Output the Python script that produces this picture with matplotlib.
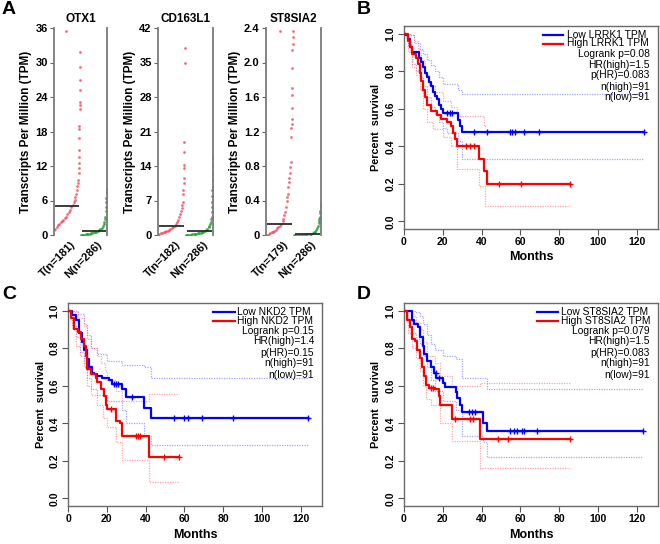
import numpy as np
import matplotlib
matplotlib.use("Agg")
import matplotlib.pyplot as plt

plt.rcParams["font.family"] = ["Liberation Sans", "DejaVu Sans"]

W, H = 660, 544

# ---------- Panel A: expression dot plots (rank fraction, TPM) ----------
otx1_t_rank = [0.00, 0.05, 0.10, 0.15, 0.20, 0.25, 0.30, 0.35, 0.40, 0.45, 0.50, 0.55, 0.60, 0.65, 0.70,
               0.74, 0.78, 0.81, 0.84, 0.86, 0.88, 0.90, 0.92,
               0.93, 0.935, 0.94, 0.945, 0.95, 0.955, 0.96, 0.96, 0.965, 0.965, 0.97, 0.97, 0.975, 0.98, 0.985,
               0.47, 0.86]
otx1_t_vals = [0.9, 1.1, 1.4, 1.7, 2.0, 2.2, 2.4, 2.6, 2.9, 3.2, 3.6, 4.0, 4.3, 4.8, 5.2,
               5.7, 6.1, 6.6, 7.2, 7.8, 8.5, 9.0, 9.6,
               10.7, 11.6, 12.5, 13.6, 14.8, 16.8, 18.4, 18.9, 22.0, 22.6, 23.2, 25.3, 26.9, 29.3, 31.9,
               35.5, 36.3]
otx1_n_rank = [0.00, 0.05, 0.10, 0.15, 0.20, 0.25, 0.30, 0.35, 0.40, 0.45, 0.50, 0.55, 0.60, 0.65, 0.70,
               0.75, 0.80, 0.85, 0.88, 0.90, 0.92, 0.94, 0.96, 0.97, 0.975, 0.98, 0.985, 0.99]
otx1_n_vals = [0.0, 0.02, 0.05, 0.08, 0.1, 0.15, 0.2, 0.25, 0.3, 0.38, 0.45, 0.5, 0.6, 0.7, 0.85,
               1.0, 1.2, 1.5, 2.0, 2.3, 2.7, 3.2, 4.1, 4.9, 5.8, 6.5, 7.3, 8.0]

cd_t_rank = [0.00, 0.05, 0.10, 0.15, 0.20, 0.25, 0.30, 0.35, 0.40, 0.45, 0.50, 0.55, 0.60, 0.65, 0.70,
             0.74, 0.78, 0.81, 0.84, 0.86, 0.88, 0.90,
             0.91, 0.92, 0.93, 0.935, 0.94, 0.945, 0.95, 0.955, 0.965, 0.97]
cd_t_vals = [0.1, 0.3, 0.4, 0.5, 0.6, 0.7, 0.8, 0.9, 1.1, 1.3, 1.5, 1.7, 1.9, 2.2, 2.6,
             3.0, 3.6, 4.2, 4.8, 5.4, 6.0, 6.7,
             8.4, 9.2, 10.5, 11.6, 13.5, 14.2, 16.9, 18.9, 34.8, 37.9]
cd_n_rank = [0.00, 0.05, 0.10, 0.15, 0.20, 0.25, 0.30, 0.35, 0.40, 0.45, 0.50, 0.55, 0.60, 0.65, 0.70,
             0.75, 0.80, 0.84, 0.87, 0.90, 0.92, 0.94, 0.95,
             0.96, 0.965, 0.97, 0.975, 0.98, 0.985, 0.99, 0.993, 0.996, 1.0]
cd_n_vals = [0.0, 0.02, 0.05, 0.08, 0.1, 0.15, 0.2, 0.25, 0.3, 0.35, 0.4, 0.45, 0.55, 0.7, 0.85,
             1.0, 1.3, 1.6, 1.9, 2.3, 2.7, 3.2, 3.7,
             4.6, 5.6, 6.6, 8.0, 9.1, 10.0, 11.1, 12.4, 14.0, 15.6]

st_t_rank = [0.00, 0.05, 0.10, 0.15, 0.20, 0.25, 0.30, 0.35, 0.40, 0.45, 0.50, 0.55, 0.60,
             0.63, 0.66, 0.69, 0.72, 0.75, 0.77, 0.79, 0.81, 0.83, 0.85, 0.87,
             0.89, 0.90, 0.91, 0.92, 0.93, 0.935, 0.94, 0.945, 0.95, 0.955, 0.96, 0.965, 0.97, 0.975,
             0.51]
st_t_vals = [0.0, 0.005, 0.01, 0.02, 0.03, 0.04, 0.05, 0.06, 0.08, 0.09, 0.11, 0.13, 0.16,
             0.19, 0.23, 0.27, 0.33, 0.39, 0.44, 0.48, 0.56, 0.61, 0.66, 0.72,
             0.79, 0.85, 1.14, 1.24, 1.29, 1.35, 1.47, 1.62, 1.71, 1.94, 2.14, 2.22, 2.30, 2.36,
             2.36]
st_n_rank = [0.00, 0.10, 0.20, 0.30, 0.40, 0.50, 0.60, 0.65, 0.70, 0.75, 0.79, 0.83, 0.87, 0.89,
             0.91, 0.93, 0.94, 0.95, 0.96, 0.97, 0.98, 0.99, 1.0]
st_n_vals = [0.0, 0.0, 0.0, 0.002, 0.004, 0.006, 0.01, 0.015, 0.02, 0.03, 0.04, 0.06, 0.08, 0.11,
             0.14, 0.16, 0.18, 0.2, 0.21, 0.25, 0.28, 0.32, 0.36]

genes = ["OTX1", "CD163L1", "ST8SIA2"]
medians_t = [5.0, 1.85, 0.125]
medians_n = [0.7, 0.85, 0.01]
ymax = [36, 42, 2.4]
yticks = [[0, 6, 12, 18, 24, 30, 36], [0, 7, 14, 21, 28, 35, 42], [0, 0.4, 0.8, 1.2, 1.6, 2.0, 2.4]]
ytick_labels = [None, None, ["0", "0.4", "0.8", "1.2", "1.6", "2.0", "2.4"]]
group_labels = [["T(n=181)", "N(n=286)"], ["T(n=182)", "N(n=286)"], ["T(n=179)", "N(n=286)"]]

# ---------- Panels B-D: Kaplan-Meier (step times, survival) ----------
# B: LRRK1
b_low_t = [0, 1, 2, 3, 4, 7.5, 9, 10, 11, 12, 13, 14, 15, 16, 17, 18, 19, 20, 28, 29, 30]
b_low_s = [1.0, 0.99, 0.97, 0.93, 0.90, 0.87, 0.85, 0.82, 0.79, 0.77, 0.74, 0.72, 0.69, 0.67, 0.65, 0.62,
           0.60, 0.575, 0.54, 0.51, 0.475]
b_low_end = 124
b_low_cens = [22, 23.5, 25, 36, 43, 54.5, 55.5, 57.5, 62, 69.5, 124]
b_high_t = [0, 2, 3, 4, 6, 7, 8, 9, 10, 11, 12, 14, 17, 19, 22, 24, 25.5, 26.5, 27.5, 38.6, 41.5, 43]
b_high_s = [1.0, 0.96, 0.93, 0.89, 0.87, 0.84, 0.79, 0.75, 0.70, 0.66, 0.62, 0.59, 0.565, 0.545, 0.53,
            0.51, 0.47, 0.44, 0.40, 0.333, 0.267, 0.20]
b_high_end = 85.5
b_high_cens = [32, 34, 36, 49, 60.5, 85.5]
b_low_up_t = [0, 3, 5, 8, 10, 12, 14, 16, 18, 20, 28, 30]
b_low_up_s = [1.0, 0.99, 0.95, 0.92, 0.89, 0.86, 0.83, 0.80, 0.77, 0.73, 0.70, 0.68]
b_low_lo_t = [0, 2, 4, 6, 8, 10, 12, 14, 16, 18, 20, 22, 28, 30]
b_low_lo_s = [1.0, 0.94, 0.84, 0.80, 0.77, 0.72, 0.66, 0.61, 0.57, 0.53, 0.50, 0.47, 0.43, 0.335]
b_high_up_t = [0, 3, 5, 7, 9, 11, 13, 16, 20, 24, 27.5, 41.5]
b_high_up_s = [1.0, 0.99, 0.96, 0.92, 0.86, 0.78, 0.72, 0.69, 0.64, 0.61, 0.56, 0.51]
b_high_up_end = 43
b_high_lo_t = [0, 2, 4, 6, 8, 10, 12, 15, 20, 24, 27.5, 38.6, 42]
b_high_lo_s = [1.0, 0.90, 0.82, 0.78, 0.70, 0.60, 0.53, 0.49, 0.45, 0.40, 0.28, 0.19, 0.08]

# C: NKD2
c_low_t = [0, 2, 4, 5.5, 7, 8.5, 10, 11, 12.5, 13.5, 15, 17.5, 21, 22.5, 28, 30, 39, 43]
c_low_s = [1.0, 0.975, 0.95, 0.88, 0.83, 0.79, 0.74, 0.70, 0.67, 0.66, 0.65, 0.64, 0.63, 0.607, 0.58,
           0.54, 0.48, 0.428]
c_low_end = 124
c_low_cens = [23.5, 25, 26, 33, 54.5, 60, 62, 69, 85, 124]
c_high_t = [0, 1.5, 3, 5, 6.5, 8.3, 9.1, 10, 11.7, 14.3, 15.1, 16.9, 18.6, 19.4, 20.3, 25, 27, 28, 42]
c_high_s = [1.0, 0.96, 0.90, 0.885, 0.85, 0.81, 0.76, 0.69, 0.66, 0.64, 0.62, 0.58, 0.545, 0.50, 0.475,
            0.41, 0.40, 0.33, 0.22]
c_high_end = 57.5
c_high_cens = [22, 35, 36, 37, 49.5, 57.5]
c_low_up_t = [0, 2, 5, 8, 10, 12, 15, 20, 28, 39, 43]
c_low_up_s = [1.0, 1.0, 0.98, 0.93, 0.87, 0.80, 0.77, 0.73, 0.71, 0.70, 0.643]
c_low_lo_t = [0, 2, 4, 6, 8, 10, 12, 15, 20, 28, 30, 39, 43]
c_low_lo_s = [1.0, 0.92, 0.86, 0.78, 0.72, 0.64, 0.58, 0.55, 0.52, 0.47, 0.40, 0.33, 0.285]
c_high_up_t = [0, 3, 5, 8, 10, 12, 15, 17, 19, 20.3, 25, 28, 42]
c_high_up_s = [1.0, 0.99, 0.96, 0.92, 0.85, 0.80, 0.76, 0.72, 0.68, 0.63, 0.57, 0.52, 0.555]
c_high_lo_t = [0, 2, 4, 6, 8, 10, 12, 15, 18, 20, 25, 28, 42]
c_high_lo_s = [1.0, 0.90, 0.81, 0.76, 0.70, 0.60, 0.55, 0.50, 0.43, 0.38, 0.30, 0.205, 0.088]

# D: ST8SIA2
d_low_t = [0, 4, 5, 7, 8.4, 9.8, 10.5, 12, 13.8, 15.5, 16.7, 19.9, 21, 26.6, 27.5, 29.1, 30, 41, 43]
d_low_s = [1.0, 0.95, 0.93, 0.91, 0.86, 0.81, 0.77, 0.73, 0.70, 0.67, 0.64, 0.615, 0.594, 0.565, 0.535,
           0.50, 0.46, 0.40, 0.359]
d_low_end = 123.4
d_low_cens = [16.5, 18, 33.3, 35, 36.7, 54.9, 56.6, 58.2, 60.8, 62, 68.7, 123.4]
d_high_t = [0, 1.7, 3, 3.9, 5.6, 6.7, 8.1, 9.4, 10.3, 11.1, 13, 16.2, 17.8, 18.7, 25, 39.3]
d_high_s = [1.0, 0.95, 0.91, 0.85, 0.836, 0.79, 0.75, 0.70, 0.65, 0.606, 0.59, 0.58, 0.545, 0.50, 0.424,
            0.316]
d_high_end = 85.4
d_high_cens = [14, 15, 26.3, 34.2, 35.4, 48.5, 53.5, 85.4]
d_low_up_t = [0, 4, 6, 8, 10, 12, 14, 16, 20, 26.6, 30, 43]
d_low_up_s = [1.0, 1.0, 0.99, 0.97, 0.93, 0.87, 0.82, 0.79, 0.76, 0.74, 0.64, 0.583]
d_low_lo_t = [0, 4, 6, 8, 10, 12, 14, 16, 20, 26.6, 30, 41, 43]
d_low_lo_s = [1.0, 0.88, 0.85, 0.82, 0.76, 0.70, 0.63, 0.57, 0.52, 0.47, 0.33, 0.30, 0.22]
d_high_up_t = [0, 2, 4, 6, 8, 10, 12, 16, 18.7, 25, 39.3]
d_high_up_s = [1.0, 1.0, 0.97, 0.94, 0.90, 0.83, 0.76, 0.72, 0.65, 0.60, 0.615]
d_high_lo_t = [0, 2, 4, 6, 8, 10, 11.1, 14, 18.7, 25, 39.3]
d_high_lo_s = [1.0, 0.88, 0.80, 0.75, 0.68, 0.60, 0.53, 0.50, 0.40, 0.305, 0.164]

b_labels = ["Low LRRK1 TPM", "High LRRK1 TPM"]
b_stats = ["Logrank p=0.08", "HR(high)=1.5", "p(HR)=0.083", "n(high)=91", "n(low)=91"]
c_labels = ["Low NKD2 TPM", "High NKD2 TPM"]
c_stats = ["Logrank p=0.15", "HR(high)=1.4", "p(HR)=0.15", "n(high)=91", "n(low)=91"]
d_labels = ["Low ST8SIA2 TPM", "High ST8SIA2 TPM"]
d_stats = ["Logrank p=0.079", "HR(high)=1.5", "p(HR)=0.083", "n(high)=91", "n(low)=91"]

BLUE = "#0000FF"
RED = "#FF0000"

fig = plt.figure(figsize=(W / 100, H / 100), dpi=100)


def px_axes(l, t, r, b):
    return fig.add_axes([l / W, 1 - b / H, (r - l) / W, (b - t) / H])


# ---- Panel A ----
a_boxes = [(54, 28, 107, 235), (158, 28, 213, 235), (266, 28, 321, 235)]
t_data = [(otx1_t_rank, otx1_t_vals), (cd_t_rank, cd_t_vals), (st_t_rank, st_t_vals)]
n_data = [(otx1_n_rank, otx1_n_vals), (cd_n_rank, cd_n_vals), (st_n_rank, st_n_vals)]
for i, g in enumerate(genes):
    ax = px_axes(*a_boxes[i])
    tr, tv = t_data[i]
    nr, nv = n_data[i]
    ax.scatter(tr, tv, s=4, color="#F24B5A", alpha=0.8, linewidths=0, zorder=2)
    ax.scatter(np.array(nr) + 1, nv, s=4, color="#1FA82A", alpha=0.85, linewidths=0, zorder=2)
    ax.hlines(medians_t[i], 0.04, 0.96, color="#2b2b2b", lw=1.3, zorder=3)
    ax.hlines(medians_n[i], 1.05, 1.95, color="#2b2b2b", lw=1.3, zorder=3)
    ax.set_xlim(0, 2)
    ax.set_ylim(0, ymax[i])
    ax.set_yticks(yticks[i])
    if ytick_labels[i]:
        ax.set_yticklabels(ytick_labels[i])
    ax.set_xticks([0.62, 1.62])
    ax.set_xticklabels(group_labels[i], rotation=45, ha="right", rotation_mode="anchor")
    ax.tick_params(axis="x", length=0, pad=3, labelsize=8)
    ax.tick_params(axis="y", length=3, width=0.8, color="#666666", labelsize=8, pad=1.5)
    for lab in ax.get_xticklabels() + ax.get_yticklabels():
        lab.set_fontweight("bold")
    for side in ["top", "bottom"]:
        ax.spines[side].set_visible(False)
    for side in ["left", "right"]:
        ax.spines[side].set_color("#7a7a7a")
        ax.spines[side].set_linewidth(1.3)
    ax.set_title(g, fontsize=8.5, fontweight="bold", pad=4)
    ax.set_ylabel("Transcripts Per Million (TPM)", fontsize=8.5, fontweight="bold", labelpad=2)


# ---- Panels B-D ----
def step(ax, t, s, end, **kw):
    ax.step(list(t) + [end], list(s) + [s[-1]], where="post", **kw)


def surv_at(t, s, c):
    return s[int(np.searchsorted(t, c, side="right")) - 1]


def km_panel(box, low, high, ci, labels, stats, line_px):
    ax = px_axes(*box)
    (lt, ls, lend, lc), (ht, hs, hend, hc) = low, high
    dot = dict(lw=0.9, linestyle=(0, (1, 1)))
    for (ct, cs, cend, col) in ci:
        step(ax, ct, cs, cend, color=col, alpha=0.55, **dot)
    step(ax, lt, ls, lend, color=BLUE, lw=1.6, zorder=4)
    step(ax, ht, hs, hend, color=RED, lw=1.6, zorder=4)
    ax.plot(lc, [surv_at(lt, ls, c) for c in lc], "+", color=BLUE, ms=5, mew=1, zorder=5)
    ax.plot(hc, [surv_at(ht, hs, c) for c in hc], "+", color=RED, ms=5, mew=1, zorder=5)
    ax.set_xlim(0, 131)
    ax.set_ylim(-0.04, 1.04)
    ax.set_xticks(range(0, 121, 20))
    ax.set_yticks([0, 0.2, 0.4, 0.6, 0.8, 1.0])
    ax.set_yticklabels(["0.0", "0.2", "0.4", "0.6", "0.8", "1.0"], rotation=90, va="center")
    ax.tick_params(direction="out", length=4, width=0.8, color="#555555", labelsize=7.5, pad=2)
    for lab in ax.get_xticklabels() + ax.get_yticklabels():
        lab.set_fontweight("bold")
    for sp in ax.spines.values():
        sp.set_color("#6a6a6a")
        sp.set_linewidth(1.0)
    ax.set_xlabel("Months", fontsize=9, fontweight="bold", labelpad=3)
    ax.set_ylabel("Percent  survival", fontsize=7.8, fontweight="bold", labelpad=3)

    wpx = box[2] - box[0]
    hpx = box[3] - box[1]
    offs = [9, 17.5, 28, 38.5, 49.5, 60.5, 71.5]
    l0, l1, tx = line_px
    for k, (lab, col) in enumerate(zip(labels, [BLUE, RED])):
        yf = 1 - offs[k] / hpx
        ax.plot([l0 / wpx, l1 / wpx], [yf, yf], color=col, lw=1.6, transform=ax.transAxes)
        ax.text(tx / wpx, yf, lab, transform=ax.transAxes, fontsize=7.4, ha="left", va="center")
    for k, lab in enumerate(stats):
        yf = 1 - offs[k + 2] / hpx
        ax.text(1 - 8 / wpx, yf, lab, transform=ax.transAxes, fontsize=7.4, ha="right", va="center")
    return ax


LBLUE = "#5a5aff"
LRED = "#ff5a5a"
km_panel((404, 26, 658, 229),
         (b_low_t, b_low_s, b_low_end, b_low_cens), (b_high_t, b_high_s, b_high_end, b_high_cens),
         [(b_low_up_t, b_low_up_s, b_low_end, LBLUE), (b_low_lo_t, b_low_lo_s, b_low_end, LBLUE),
          (b_high_up_t, b_high_up_s, b_high_up_end, LRED), (b_high_lo_t, b_high_lo_s, b_high_end, LRED)],
         b_labels, b_stats, (139, 159, 163))
km_panel((68, 303, 322, 506),
         (c_low_t, c_low_s, c_low_end, c_low_cens), (c_high_t, c_high_s, c_high_end, c_high_cens),
         [(c_low_up_t, c_low_up_s, c_low_end, LBLUE), (c_low_lo_t, c_low_lo_s, c_low_end, LBLUE),
          (c_high_up_t, c_high_up_s, c_high_end, LRED), (c_high_lo_t, c_high_lo_s, c_high_end, LRED)],
         c_labels, c_stats, (145, 167, 169))
km_panel((404, 303, 658, 506),
         (d_low_t, d_low_s, d_low_end, d_low_cens), (d_high_t, d_high_s, d_high_end, d_high_cens),
         [(d_low_up_t, d_low_up_s, d_low_end, LBLUE), (d_low_lo_t, d_low_lo_s, d_low_end, LBLUE),
          (d_high_up_t, d_high_up_s, d_high_end, LRED), (d_high_lo_t, d_high_lo_s, d_high_end, LRED)],
         d_labels, d_stats, (133, 154, 157))

for letter, (x, y) in zip("ABCD", [(2, 1), (357, 1), (2, 286), (357, 286)]):
    fig.text(x / W, 1 - y / H, letter, fontsize=14, fontweight="bold", ha="left", va="top")

fig.savefig("out.png", dpi=100, facecolor="white")
